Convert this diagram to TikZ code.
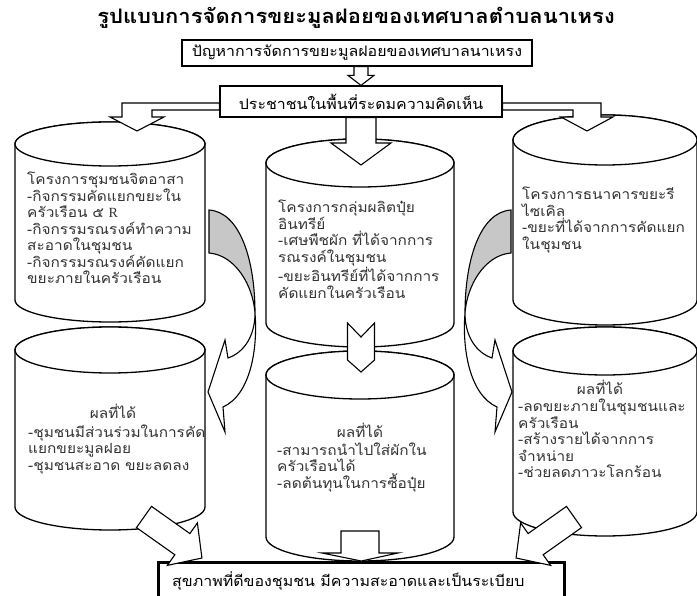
\documentclass[tikz,border=0pt]{standalone}
\usepackage{fontspec}
\newfontfamily\thai[Script=Thai,FakeStretch=1.1]{Loma}
\newfontfamily\serifR{Liberation Serif}
\usetikzlibrary{calc}
\newcommand\cylinder[5]{%
  \filldraw[cyl] (#1-#2,#3) -- (#1-#2,#4) arc[start angle=180,end angle=0,x radius=#2,y radius=#5] -- (#1+#2,#3) arc[start angle=0,end angle=-180,x radius=#2,y radius=#5] -- cycle;
  \draw[cyl] (#1,#3) ellipse[x radius=#2,y radius=#5];
}
\newcommand\curvedarrow{%
  \draw[grayband] (209,210) .. controls (240,212) and (255,260) .. (255,313)
     .. controls (253,285) and (235,255) .. (209,253) -- cycle;
  \draw[blockarrow] (255,313) .. controls (255,335) and (245,352) .. (228,358)
     -- (225,340) -- (208,392) -- (225,432) -- (223,407)
     .. controls (250,395) and (258,350) .. (255,313) -- cycle;
}
\begin{document}
\begin{tikzpicture}[x=1pt,y=-1pt,
  cyl/.style={draw=black, line width=1.3pt, fill=white},
  blockarrow/.style={draw=black, line width=1.1pt, fill=white, line join=miter},
  grayband/.style={draw=black, line width=1.1pt, fill=black!22},
  box/.style={draw=black, line width=1.2pt, fill=white, inner sep=0pt,
    font=\thai\fontsize{14.5}{16}\selectfont},
  body/.style={font=\thai\fontsize{14}{16.5}\selectfont, text=black!80,
    inner sep=0pt, align=left, text width=200pt},
  head/.style={font=\thai\fontsize{14}{16.5}\selectfont, text=black!80, inner sep=0pt},
]
\useasboundingbox (0,0) rectangle (697,596);
\fill[white] (0,0) rectangle (697,596);

% title
\node[font=\thai\bfseries\fontsize{20}{23}\selectfont] (title) at (356,18)
  {รูปแบบการจัดการขยะมูลฝอยของเทศบาลตำบลนาเหรง};

% cylinders
\cylinder{110}{95}{144}{300}{22}
\cylinder{110}{95}{350}{507}{23}
\cylinder{360}{94}{163}{323}{24}
\cylinder{360}{94}{375}{537}{24}
\cylinder{605}{92}{140}{300}{25}
\cylinder{605}{92}{351}{512}{24}

% texts in cylinders
\node[body, anchor=base west] (tLT) at (27,185)
  {โครงการชุมชนจิตอาสา\\-กิจกรรมคัดแยกขยะใน\\ครัวเรือน ๕ {\serifR R}\\-กิจกรรมรณรงค์ทำความ\\สะอาดในชุมชน\\-กิจกรรมรณรงค์คัดแยก\\ขยะภายในครัวเรือน};
\node[body, anchor=base west] (tMT) at (278,213)
  {โครงการกลุ่มผลิตปุ๋ย\\อินทรีย์\\-เศษพืชผัก ที่ได้จากการ\\รณรงค์ในชุมชน\\-ขยะอินทรีย์ที่ได้จากการ\\คัดแยกในครัวเรือน};
\node[body, anchor=base west] (tRT) at (522,200)
  {โครงการธนาคารขยะรี\\ไซเคิล\\-ขยะที่ได้จากการคัดแยก\\ในชุมชน};
\node[head, anchor=base] (hLB) at (113,418) {ผลที่ได้};
\node[body, anchor=base west] (tLB) at (28,437)
  {-ชุมชนมีส่วนร่วมในการคัด\\แยกขยะมูลฝอย\\-ชุมชนสะอาด ขยะลดลง};
\node[head, anchor=base] (hMB) at (360,437) {ผลที่ได้};
\node[body, anchor=base west] (tMB) at (277,455)
  {-สามารถนำไปใส่ผักใน\\ครัวเรือนได้\\-ลดต้นทุนในการซื้อปุ๋ย};
\node[head, anchor=base] (hRB) at (600,395) {ผลที่ได้};
\node[body, anchor=base west] (tRB) at (518,412)
  {-ลดขยะภายในชุมชนและ\\ครัวเรือน\\-สร้างรายได้จากการ\\จำหน่าย\\-ช่วยลดภาวะโลกร้อน};

% boxes
\node[box, minimum width=350pt, minimum height=26pt] (b1) at (357,53)
  {ปัญหาการจัดการขยะมูลฝอยของเทศบาลนาเหรง};
\node[box, minimum width=282pt, minimum height=31pt] (b2) at (361,101.5)
  {ประชาชนในพื้นที่ระดมความคิดเห็น};
\node[draw=black, line width=2.6pt, fill=white, minimum width=406pt, minimum height=60pt,
  anchor=north west, inner sep=0pt] (goal) at (157,561) {};
\node[head, font=\thai\fontsize{14.5}{16}\selectfont, text=black, anchor=base west] (goaltext) at (172,586)
  {สุขภาพที่ดีของชุมชน มีความสะอาดและเป็นระเบียบ};

% named ends
\coordinate (mtin) at (361,165);
\coordinate (mtbot) at (361,323);
\coordinate (mbtop) at (361,372);
\coordinate (mbbot) at (360,531);

% box1 -> box2
\draw[blockarrow] ($(b2.north |- b1.south)+(-7,0)$) -- ($(b2.north)+(-7,-10)$) -- ($(b2.north)+(-13,-10)$)
  -- (b2.north) -- ($(b2.north)+(13,-10)$) -- ($(b2.north)+(7,-10)$) -- ($(b2.north |- b1.south)+(7,0)$) -- cycle;
% box2 -> middle cylinder
\draw[blockarrow] ($(b2.south)+(-15,0)$) -- ($(mtin)+(-15,-22)$) -- ($(mtin)+(-30,-22)$)
  -- (mtin) -- ($(mtin)+(30,-22)$) -- ($(mtin)+(15,-22)$) -- ($(b2.south)+(15,0)$) -- cycle;
% box2 -> left cylinder (bent)
\draw[blockarrow] ($(b2.west)+(0,1.5)$) -- (122,103) -- (122,117) -- (110,117) -- (137,131)
  -- (164,117) -- (152,117) -- (152,110) -- ($(b2.west)+(0,8.5)$) -- cycle;
% box2 -> right cylinder (bent)
\draw[blockarrow] ($(b2.east)+(0,1.5)$) -- (601,103) -- (601,117) -- (613,117) -- (587,131)
  -- (561,117) -- (573,117) -- (573,110) -- ($(b2.east)+(0,8.5)$) -- cycle;
% middle top -> middle bottom (notched)
\draw[blockarrow] ($(mtbot)+(-13.5,0)$) -- ($(mtbot)+(0,14)$) -- ($(mtbot)+(13.5,0)$)
  -- ($(mbtop)+(13.5,-12)$) -- (mbtop) -- ($(mbtop)+(-13.5,-12)$) -- cycle;
% middle bottom -> goal
\draw[blockarrow] ($(mbbot)+(-19,0)$) -- ($(mbbot)+(-19,22)$) -- ($(mbbot)+(-38,22)$)
  -- (goal.north) -- ($(mbbot)+(38,22)$) -- ($(mbbot)+(19,22)$) -- ($(mbbot)+(19,0)$) -- cycle;
% left bottom -> goal
\begin{scope}[shift={(144,517)}, rotate=-35.3]
  \draw[blockarrow] (0,-13) -- (47,-13) -- (47,-26) -- (71,0) -- (47,26) -- (47,13) -- (0,13) -- cycle;
\end{scope}
% right bottom -> goal
\begin{scope}[shift={(574,517)}, rotate=-144.7]
  \draw[blockarrow] (0,-13) -- (47,-13) -- (47,-26) -- (71,0) -- (47,26) -- (47,13) -- (0,13) -- cycle;
\end{scope}
% curved arrows top -> bottom
\curvedarrow
\begin{scope}[xshift=720pt, xscale=-1]
  \curvedarrow
\end{scope}
\end{tikzpicture}
\end{document}
